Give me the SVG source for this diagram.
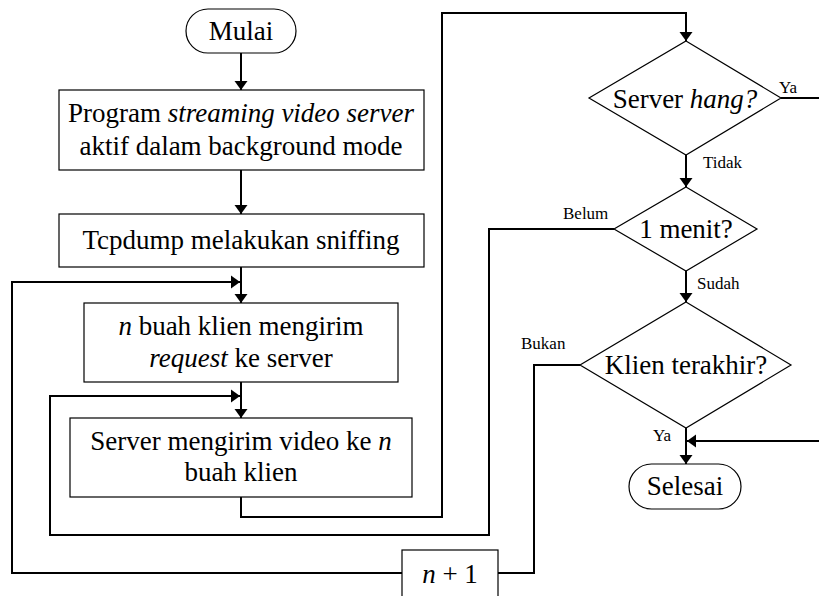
<svg xmlns="http://www.w3.org/2000/svg" width="819" height="596" viewBox="0 0 819 596">
<defs>
<marker id="ah" markerUnits="userSpaceOnUse" markerWidth="14" markerHeight="14" refX="9" refY="7" orient="auto" viewBox="0 0 14 14">
<path d="M0,0.5 L9,7 L0,13.5 z" fill="#000"/>
</marker>
</defs>
<style>
.shape{fill:#fff;stroke:#000;stroke-width:1.2}
.t{font-family:'Liberation Serif','Times New Roman',serif;font-size:27px;text-anchor:middle;fill:#000}
.lb{font-family:'Liberation Serif','Times New Roman',serif;font-size:17px;fill:#000}
.c{fill:none;stroke:#000;stroke-width:2}
.ca{fill:none;stroke:#000;stroke-width:2;marker-end:url(#ah)}
.i{font-style:italic}
</style>
<rect width="819" height="596" fill="#fff"/>
<g id="connectors">
<line class="ca" x1="241" y1="53" x2="241" y2="90"/>
<line class="ca" x1="241" y1="170" x2="241" y2="214"/>
<line class="ca" x1="241" y1="267" x2="241" y2="303"/>
<line class="ca" x1="241" y1="382" x2="241" y2="418"/>
<polyline class="c" points="241,497 241,517 442,517 442,13 686,13"/>
<line class="ca" x1="686" y1="12" x2="686" y2="41"/>
<line class="ca" x1="686" y1="155" x2="686" y2="187"/>
<line class="ca" x1="686" y1="271" x2="686" y2="302"/>
<line class="ca" x1="686" y1="428" x2="686" y2="464"/>
<line class="c" x1="781" y1="98" x2="819" y2="98"/>
<line class="ca" x1="819" y1="441" x2="687" y2="441"/>
<polyline class="ca" points="614,229 489,229 489,535 50,535 50,396 240,396"/>
<polyline class="c" points="580,365 534,365 534,573 498,573"/>
<polyline class="ca" points="402,573 12,573 12,282 240,282"/>
</g>
<g id="mulai">
<rect class="shape" x="186" y="9" width="110" height="44" rx="22" ry="22"/>
<text class="t" x="241" y="40">Mulai</text>
</g>
<g id="program">
<rect class="shape" x="59" y="90" width="365" height="80"/>
<text class="t" x="241" y="122">Program <tspan class="i">streaming video server</tspan></text>
<text class="t" x="241" y="155">aktif dalam background mode</text>
</g>
<g id="tcpdump">
<rect class="shape" x="59" y="214" width="365" height="53"/>
<text class="t" x="241" y="249">Tcpdump melakukan sniffing</text>
</g>
<g id="request">
<rect class="shape" x="84" y="303" width="314" height="79"/>
<text class="t" x="241" y="335"><tspan class="i">n</tspan> buah klien mengirim</text>
<text class="t" x="241" y="367"><tspan class="i">request</tspan> ke server</text>
</g>
<g id="kirim">
<rect class="shape" x="70" y="418" width="342" height="79"/>
<text class="t" x="241" y="450">Server mengirim video ke <tspan class="i">n</tspan></text>
<text class="t" x="241" y="481">buah klien</text>
</g>
<g id="hang">
<polygon class="shape" points="686,41 781,98 686,155 589,98"/>
<text class="t" x="685" y="108">Server <tspan class="i">hang?</tspan></text>
<text class="lb" x="779" y="93">Ya</text>
<text class="lb" x="703" y="168">Tidak</text>
</g>
<g id="menit">
<polygon class="shape" points="686,187 757,229 686,271 614,229"/>
<text class="t" x="686" y="238">1 menit?</text>
<text class="lb" x="563" y="219">Belum</text>
<text class="lb" x="697" y="289">Sudah</text>
</g>
<g id="klien">
<polygon class="shape" points="686,302 791,365 686,428 580,365"/>
<text class="t" x="686" y="374">Klien terakhir?</text>
<text class="lb" x="521" y="349">Bukan</text>
<text class="lb" x="653" y="441">Ya</text>
</g>
<g id="selesai">
<rect class="shape" x="629" y="464" width="112" height="45" rx="22.5" ry="22.5"/>
<text class="t" x="685" y="495">Selesai</text>
</g>
<g id="nplus">
<rect class="shape" x="402" y="550" width="96" height="60"/>
<text class="t" x="450" y="583"><tspan class="i">n</tspan> + 1</text>
</g>
</svg>
